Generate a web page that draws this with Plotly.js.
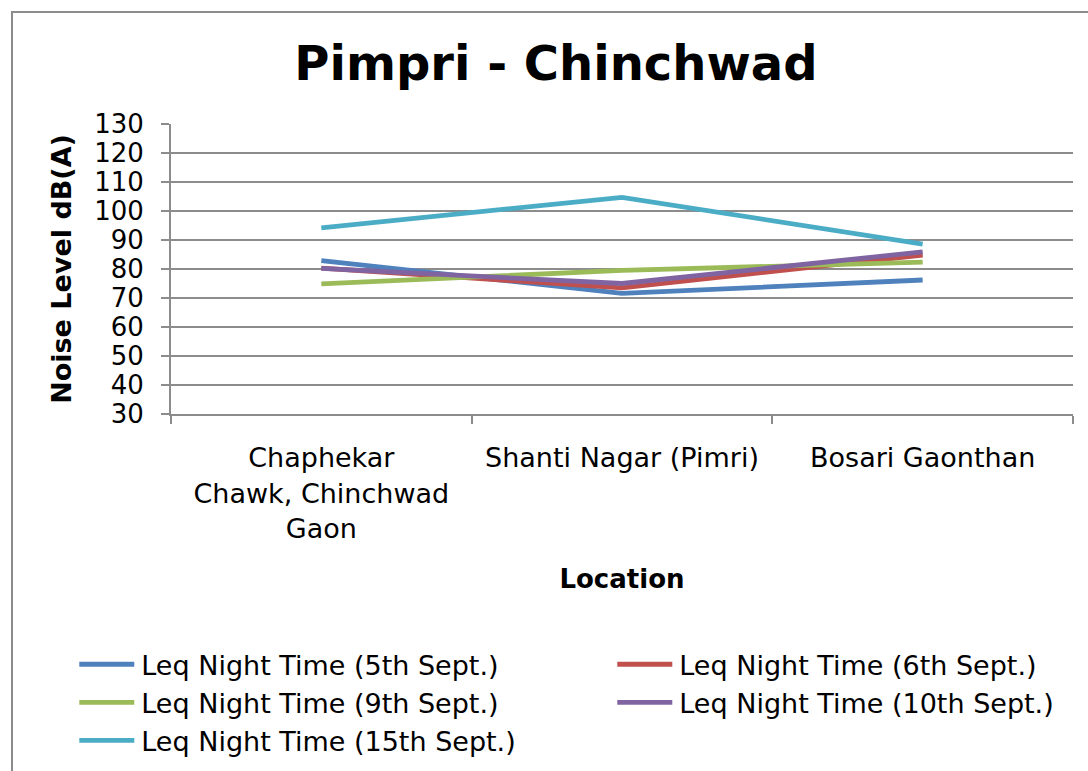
<!DOCTYPE html>
<html>
<head>
<meta charset="utf-8">
<script src="https://cdn.plot.ly/plotly-3.0.1.min.js"></script>
<style>
html,body{margin:0;padding:0;width:1088px;height:771px;overflow:hidden;background:#fff;}
#frame{position:absolute;left:11px;top:11px;width:1090px;height:800px;border:2px solid #8c8c8c;box-sizing:border-box;pointer-events:none;z-index:5;}
#chart{position:absolute;left:0;top:0;width:1088px;height:771px;}
</style>
</head>
<body>
<div id="chart"></div>
<div id="frame"></div>
<script>
const categories = ["Chaphekar Chawk, Chinchwad Gaon", "Shanti Nagar (Pimri)", "Bosari Gaonthan"];
const tickLabels = ["Chaphekar<br>Chawk, Chinchwad<br>Gaon", "Shanti Nagar (Pimri)", "Bosari Gaonthan"];
const seriesNames = ["Leq Night Time (5th Sept.)", "Leq Night Time (6th Sept.)", "Leq Night Time (9th Sept.)", "Leq Night Time (10th Sept.)", "Leq Night Time (15th Sept.)"];
const sept5 = [82.9, 71.6, 76.2];
const sept6 = [80.3, 73.5, 84.8];
const sept9 = [74.9, 79.5, 82.4];
const sept10 = [80.2, 75.0, 85.9];
const sept15 = [94.2, 104.7, 88.6];
const colors = ["#4F81BD", "#C0504D", "#9BBB59", "#8064A2", "#4BACC6"];
const yTicks = [30, 40, 50, 60, 70, 80, 90, 100, 110, 120, 130];

const all = [sept5, sept6, sept9, sept10, sept15];
const traces = all.map((vals, i) => ({
  type: "scatter",
  mode: "lines",
  x: categories,
  y: vals,
  name: seriesNames[i],
  line: {color: colors[i], width: 4.8}
}));

const font = "DejaVu Sans, Verdana, sans-serif";
const layout = {
  width: 1088, height: 771,
  margin: {l: 171, r: 15, t: 124, b: 357, autoexpand: false},
  paper_bgcolor: "#fff", plot_bgcolor: "#fff",
  font: {family: font, size: 26, color: "#000"},
  title: {text: "<b>Pimpri - Chinchwad</b>", font: {family: font, size: 48, color: "#000"}, x: 0.511, xref: "container", xanchor: "center", y: 0.918, yref: "container", yanchor: "middle"},
  showlegend: true,
  legend: {orientation: "h", x: -0.105, xanchor: "left", y: -0.78, yanchor: "top", entrywidth: 468, entrywidthmode: "pixels", font: {family: font, size: 27, color: "#000"}, tracegroupgap: 0, itemwidth: 55, traceorder: "normal"},
  xaxis: {
    type: "category", range: [-0.5, 2.5],
    tickmode: "array", tickvals: categories, ticktext: tickLabels,
    tickson: "boundaries", ticks: "outside", ticklen: 8, tickwidth: 2, tickcolor: "#8c8c8c",
    showgrid: false, showline: true, linecolor: "#8c8c8c", linewidth: 2,
    zeroline: false, ticklabelstandoff: 19,
    tickfont: {family: font, size: 27, color: "#000"},
    title: {text: "<b>Location</b>", font: {family: font, size: 26, color: "#000"}, standoff: 27},
    fixedrange: true
  },
  yaxis: {
    range: [30, 130], tickmode: "array", tickvals: yTicks,
    ticks: "outside", ticklen: 8, tickwidth: 2, tickcolor: "#8c8c8c",
    showgrid: true, gridcolor: "#8c8c8c", gridwidth: 2,
    showline: true, linecolor: "#8c8c8c", linewidth: 2, zeroline: false,
    ticklabelstandoff: 12,
    tickfont: {family: font, size: 26, color: "#000"},
    title: {text: "<b>Noise Level dB(A)</b>", font: {family: font, size: 27, color: "#000"}, standoff: 15},
    fixedrange: true
  }
};

Plotly.newPlot("chart", traces, layout, {displayModeBar: false, staticPlot: true}).then(gd => {
  gd.querySelectorAll(".legendlines path").forEach(p => p.setAttribute("d", "M3,0h55"));
});
</script>
</body>
</html>
